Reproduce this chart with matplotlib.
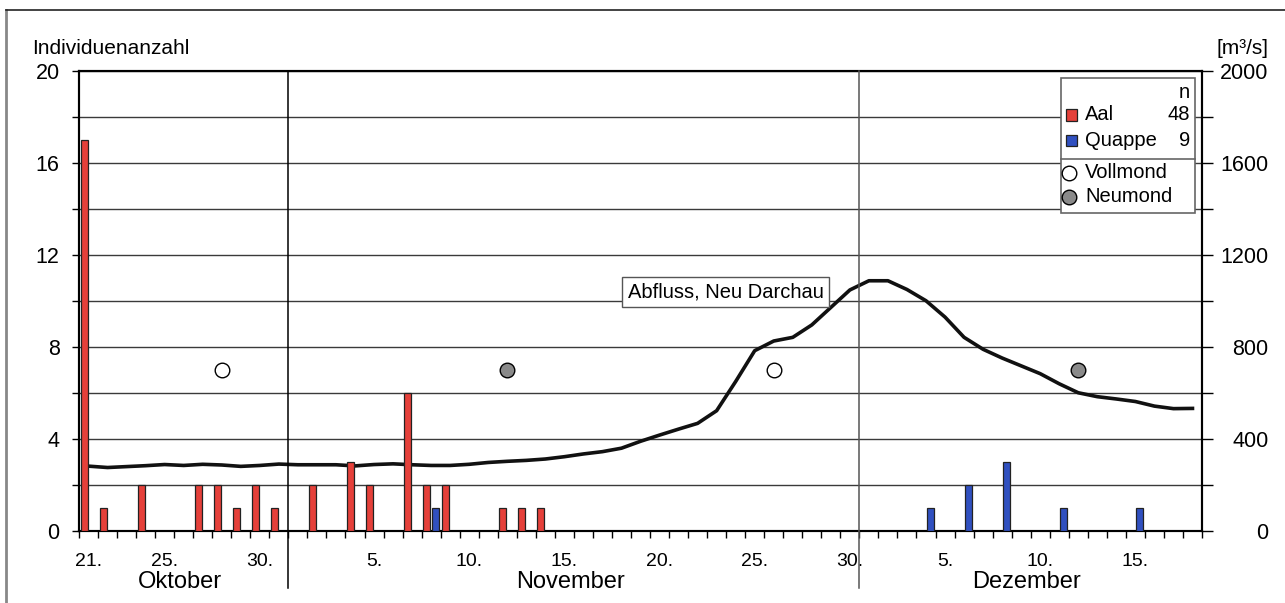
import matplotlib
matplotlib.use("Agg")
import matplotlib.pyplot as plt
import matplotlib.transforms as mtransforms
from matplotlib.lines import Line2D
from matplotlib.patches import Rectangle
import numpy as np

plt.rcParams['font.family'] = ['Liberation Sans', 'DejaVu Sans']

# --- calendar ---------------------------------------------------------------
months = ['Oktober', 'November', 'Dezember']
month_first_day = [21, 1, 1]
month_last_day = [31, 30, 18]
labelled_days = [[21, 25, 30], [5, 10, 15, 20, 25, 30], [5, 10, 15]]

# --- catches per day (Oct 21 ... Dec 18) --------------------------------------
aal = [17, 1, 0, 2, 0, 0, 2, 2, 1, 2, 1,                       # Oktober 21-31
       0, 2, 0, 3, 2, 0, 6, 2, 2, 0, 0, 1, 1, 1, 0,            # November 1-15
       0, 0, 0, 0, 0, 0, 0, 0, 0, 0, 0, 0, 0, 0, 0,            # November 16-30
       0, 0, 0, 0, 0, 0, 0, 0, 0, 0, 0, 0, 0, 0, 0, 0, 0, 0]   # Dezember 1-18
quappe = [0, 0, 0, 0, 0, 0, 0, 0, 0, 0, 0,
          0, 0, 0, 0, 0, 0, 0, 1, 0, 0, 0, 0, 0, 0, 0,
          0, 0, 0, 0, 0, 0, 0, 0, 0, 0, 0, 0, 0, 0, 0,
          0, 0, 0, 1, 0, 2, 0, 3, 0, 0, 1, 0, 0, 0, 1, 0, 0, 0]

# --- discharge Neu Darchau [m3/s] ---------------------------------------------
abfluss = [282, 276, 280, 284, 289, 285, 290, 287, 281, 285, 291,
           288, 288, 288, 283, 289, 292, 288, 285, 285, 290, 298, 303, 307, 313,
           323, 335, 345, 360, 390, 417, 443, 468, 523, 650, 784, 826, 842, 896,
           972, 1048,
           1088, 1088, 1050, 1001, 930, 842, 790, 752, 718, 684, 640, 601, 584,
           574, 563, 543, 532, 533]

# --- moon phases --------------------------------------------------------------
vollmond = [('Oktober', 28), ('November', 26)]
neumond = [('November', 12), ('Dezember', 12)]
moon_level = 7

RED = '#e5403a'
BLUE = '#3050c0'
EDGE = '#222222'

# day index for every calendar date
dates = [(m, d) for m, a, b in zip(months, month_first_day, month_last_day)
         for d in range(a, b + 1)]
index = {md: i for i, md in enumerate(dates)}
x = np.arange(len(dates))

W, H = 1285, 603
fig = plt.figure(figsize=(W / 100, H / 100), dpi=100)
fig.patch.set_facecolor('white')


def fx(px):
    return px / W


def fy(py):
    return (H - py) / H


ax = fig.add_axes([fx(79), fy(531), (1202 - 79) / W, (531 - 71) / H])
ax2 = ax.twinx()
ax.set_zorder(ax2.get_zorder() + 1)
ax.patch.set_visible(False)

ax.set_xlim(-0.5, len(dates) - 0.5)
ax.set_ylim(0, 20)
ax2.set_ylim(0, 2000)

# horizontal grid every 200 m3/s (= 2 individuals)
ax2.set_yticks(np.arange(0, 2001, 400))
ax2.set_yticks(np.arange(200, 2000, 400), minor=True)
ax2.grid(which='both', axis='y', color='#3a3a3a', lw=1.0)
ax2.set_axisbelow(True)

# discharge curve
ax2.plot(x, abfluss, color='#111111', lw=2.6, solid_joinstyle='round',
         zorder=3)

# bars
bw = 0.37
off = 0.235
a = np.array(aal)
q = np.array(quappe)
ax.bar(x[a > 0] - off, a[a > 0], width=bw, color=RED, edgecolor=EDGE,
       linewidth=0.9, zorder=3)
ax.bar(x[q > 0] + off, q[q > 0], width=bw, color=BLUE, edgecolor=EDGE,
       linewidth=0.9, zorder=3)

# moon phases
vx = [index[m] for m in vollmond]
nx = [index[m] for m in neumond]
ax.plot(vx, [moon_level] * len(vx), 'o', ms=10.5, mfc='white', mec='black',
        mew=1.0, zorder=4)
ax.plot(nx, [moon_level] * len(nx), 'o', ms=10.5, mfc='#8a8a8a', mec='black',
        mew=1.0, zorder=4)

# left axis
ax.set_yticks(np.arange(0, 21, 4))
ax.set_yticks(np.arange(2, 20, 4), minor=True)
ax.tick_params(axis='y', which='both', direction='out', length=5, width=1,
               labelsize=15.5, pad=9)

# right axis
ax2.tick_params(axis='y', which='both', direction='out', length=8, width=1,
                labelsize=15.5, pad=40)
for lab in ax2.get_yticklabels():
    lab.set_horizontalalignment('right')

# x axis: ticks at day boundaries, labels at day centres
ax.set_xticks(np.arange(-0.5, len(dates), 1))
ax.set_xticklabels([])
ax.tick_params(axis='x', which='major', direction='out', length=5, width=1)
lab_pos = [index[(m, d)] for m, ds in zip(months, labelled_days) for d in ds]
lab_txt = [f'{d}.' for ds in labelled_days for d in ds]
ax.set_xticks(lab_pos, lab_txt, minor=True)
ax.tick_params(axis='x', which='minor', length=0, labelsize=14, pad=16)

for sp in ax.spines.values():
    sp.set_linewidth(1.5)
    sp.set_color('black')
for sp in ax2.spines.values():
    sp.set_linewidth(1.5)
    sp.set_color('black')

# month separators and names
trans = mtransforms.blended_transform_factory(ax.transData, ax.transAxes)
sep_colors = ['black', '#555555']
start = 0
for k, m in enumerate(months):
    n = month_last_day[k] - month_first_day[k] + 1
    ax.text(start + (n - 1) / 2 - 0.2, -0.11, m, transform=trans,
            ha='center', va='center', fontsize=17)
    if k < len(months) - 1:
        ax.add_line(Line2D([start + n - 0.5] * 2, [1, -0.124], transform=trans,
                           color=sep_colors[k], lw=1.1, clip_on=False,
                           zorder=5))
    start += n

# discharge label
ax.text(33.47, 10.39, 'Abfluss, Neu Darchau', ha='center', va='center',
        fontsize=14.5, zorder=6,
        bbox=dict(boxstyle='square,pad=0.28', fc='white', ec='#555555', lw=1))

# axis titles
fig.text(fx(32), fy(48), 'Individuenanzahl', ha='left', va='center',
         fontsize=15)
fig.text(fx(1268), fy(48), '[m³/s]', ha='right', va='center', fontsize=15)

# legend box
fig.add_artist(Rectangle((fx(1061), fy(213)), fx(1195 - 1061),
                         (213 - 78) / H, transform=fig.transFigure,
                         fc='white', ec='#666666', lw=1.2, zorder=10))
fig.add_artist(Line2D([fx(1061), fx(1195)], [fy(159), fy(159)],
                      transform=fig.transFigure, color='#666666', lw=1.2,
                      zorder=11))
lfs = 14.5
fig.text(fx(1190), fy(92), 'n', ha='right', va='center', fontsize=lfs,
         zorder=12)
for yy, col, name, cnt in [(115, RED, 'Aal', int(a.sum())),
                           (141, BLUE, 'Quappe', int(q.sum()))]:
    fig.add_artist(Rectangle((fx(1066), fy(yy + 5.5)), fx(11), 11 / H,
                             transform=fig.transFigure, fc=col, ec=EDGE,
                             lw=0.9, zorder=12))
    fig.text(fx(1085), fy(yy), name, ha='left', va='center', fontsize=lfs,
             zorder=12)
    fig.text(fx(1190), fy(yy), str(cnt), ha='right', va='center',
             fontsize=lfs, zorder=12)
for yy, fc, name in [(173, 'white', 'Vollmond'), (197, '#8a8a8a', 'Neumond')]:
    fig.add_artist(Line2D([fx(1069)], [fy(yy)], transform=fig.transFigure,
                          marker='o', ms=10.5, mfc=fc, mec='black', mew=1.0,
                          ls='none', zorder=12))
    fig.text(fx(1085), fy(yy), name, ha='left', va='center', fontsize=lfs,
             zorder=12)

# outer frame
fig.add_artist(Line2D([fx(6), fx(6)], [0, fy(10)], transform=fig.transFigure,
                      color='#888888', lw=2))
fig.add_artist(Line2D([fx(6), 1], [fy(10), fy(10)], transform=fig.transFigure,
                      color='#222222', lw=1.2))

fig.savefig('out.png', dpi=100)
